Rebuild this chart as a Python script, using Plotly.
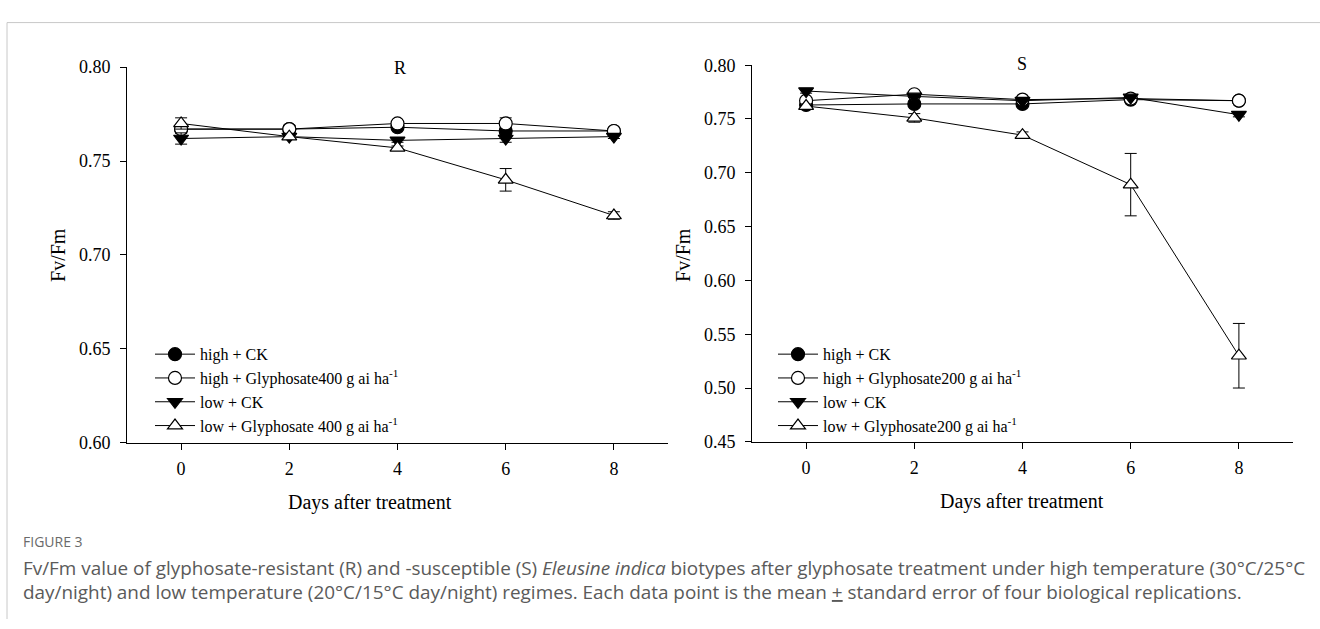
import plotly.graph_objects as go

days = [0, 2, 4, 6, 8]

# Panel R (glyphosate-resistant)
R_high_ck = [0.767, 0.767, 0.768, 0.766, 0.766]
R_high_ck_err = [0.002, 0.002, 0.001, 0.002, 0.001]
R_high_gly = [0.767, 0.767, 0.770, 0.770, 0.766]
R_high_gly_err = [0.002, 0.002, 0.001, 0.003, 0.001]
R_low_ck = [0.762, 0.763, 0.761, 0.762, 0.763]
R_low_ck_err = [0.003, 0.001, 0.001, 0.002, 0.001]
R_low_gly = [0.770, 0.763, 0.757, 0.740, 0.721]
R_low_gly_err = [0.003, 0.001, 0.001, 0.006, 0.002]

# Panel S (glyphosate-susceptible)
S_high_ck = [0.763, 0.764, 0.764, 0.768, 0.767]
S_high_ck_err = [0.002, 0.002, 0.001, 0.001, 0.001]
S_high_gly = [0.767, 0.773, 0.768, 0.769, 0.767]
S_high_gly_err = [0.003, 0.002, 0.001, 0.001, 0.001]
S_low_ck = [0.776, 0.771, 0.767, 0.770, 0.754]
S_low_ck_err = [0.002, 0.001, 0.001, 0.001, 0.002]
S_low_gly = [0.762, 0.751, 0.735, 0.689, 0.530]
S_low_gly_err = [0.002, 0.004, 0.003, 0.029, 0.030]

R_names = ["high + CK", "high + Glyphosate400 g ai ha<sup>-1</sup>",
           "low + CK", "low + Glyphosate 400 g ai ha<sup>-1</sup>"]
S_names = ["high + CK", "high + Glyphosate200 g ai ha<sup>-1</sup>",
           "low + CK", "low + Glyphosate200 g ai ha<sup>-1</sup>"]

symbols = ["circle", "circle-open", "triangle-down", "triangle-up-open"]
groups = ["high", "high", "low", "low"]

SERIF = "Liberation Serif, Times New Roman, serif"
SANS = "Open Sans, sans-serif"
W, H = 1320, 629

fig = go.Figure()

def add_panel(ys, errs, names, xa, ya, legend):
    for y, e, n, sym, g in zip(ys, errs, names, symbols, groups):
        fill = "white" if sym.endswith("open") else "black"
        base = sym.replace("-open", "")
        fig.add_trace(go.Scatter(
            x=days, y=y, name=n, mode="lines+markers",
            xaxis=xa, yaxis=ya, legend=legend, legendgroup=legend + g,
            line=dict(color="black", width=1),
            marker=dict(symbol=base, size=13, color=fill,
                        line=dict(color="black", width=1.2)),
            error_y=dict(type="data", array=e, visible=True,
                         color="black", thickness=1, width=6),
        ))

add_panel([R_high_ck, R_high_gly, R_low_ck, R_low_gly],
          [R_high_ck_err, R_high_gly_err, R_low_ck_err, R_low_gly_err],
          R_names, "x", "y", "legend")
add_panel([S_high_ck, S_high_gly, S_low_ck, S_low_gly],
          [S_high_ck_err, S_high_gly_err, S_low_ck_err, S_low_gly_err],
          S_names, "x2", "y2", "legend2")

def px_x(p):
    return p / W

def px_y(p):
    return 1 - p / H

axis_common = dict(showline=True, linecolor="black", linewidth=1, mirror=False,
                   ticks="outside", ticklen=6, tickcolor="black", tickwidth=1,
                   showgrid=False, zeroline=False,
                   tickfont=dict(family=SERIF, size=18, color="black"))

fig.update_layout(
    width=W, height=H, autosize=False,
    margin=dict(l=0, r=0, t=0, b=0),
    paper_bgcolor="white", plot_bgcolor="white",
    xaxis=dict(domain=[px_x(127), px_x(668)], range=[-1, 9],
               tickvals=[0, 2, 4, 6, 8], anchor="y", ticklabelstandoff=4,
               **axis_common),
    yaxis=dict(domain=[px_y(447), px_y(59)], range=[0.60, 0.80],
               dtick=0.05, tickformat=".2f", anchor="x", ticklabelstandoff=6,
               **axis_common),
    xaxis2=dict(domain=[px_x(752), px_x(1293)], range=[-1, 9],
                tickvals=[0, 2, 4, 6, 8], anchor="y2", ticklabelstandoff=4,
                **axis_common),
    yaxis2=dict(domain=[px_y(446), px_y(57)], range=[0.45, 0.80],
                dtick=0.05, tickformat=".2f", anchor="x2", ticklabelstandoff=6,
                **axis_common),
    legend=dict(x=px_x(150), y=px_y(338), xanchor="left", yanchor="top",
                bgcolor="rgba(0,0,0,0)", tracegroupgap=0, itemwidth=40,
                font=dict(family=SERIF, size=16, color="black")),
    legend2=dict(x=px_x(773), y=px_y(338), xanchor="left", yanchor="top",
                 bgcolor="rgba(0,0,0,0)", tracegroupgap=0, itemwidth=40,
                 font=dict(family=SERIF, size=16, color="black")),
    showlegend=True,
)

def label(text, x, y, size, family=SERIF, color="black", angle=0,
          xanchor="center"):
    return dict(text=text, x=px_x(x), y=px_y(y), xref="paper", yref="paper",
                xanchor=xanchor, yanchor="middle", showarrow=False,
                textangle=angle, font=dict(family=family, size=size, color=color))

ann = [
    label("R", 400, 60, 18),
    label("S", 1022, 56, 18),
    label("Days after treatment", 370, 509, 20),
    label("Days after treatment", 1022, 508, 20),
    label("Fv/Fm", 58, 253, 20, angle=-90),
    label("Fv/Fm", 683, 253, 20, angle=-90),
    label("FIGURE 3", 21, 549, 14, family=SANS, color="#6a6a6a", xanchor="left"),
    label("Fv/Fm value of glyphosate-resistant (R) and -susceptible (S) "
          "<i>Eleusine indica</i> biotypes after glyphosate treatment under "
          "high temperature (30°C/25°C",
          21, 576, 18.9, family=SANS, color="#5a5a5a", xanchor="left"),
    label("day/night) and low temperature (20°C/15°C day/night) regimes. "
          "Each data point is the mean <u>+</u> standard error of four "
          "biological replications.",
          21, 601, 18.9, family=SANS, color="#5a5a5a", xanchor="left"),
]
fig.update_layout(annotations=ann)

# light gray frame (left and top edges)
fig.add_shape(type="line", xref="paper", yref="paper",
              x0=px_x(7), x1=1.0, y0=px_y(13), y1=px_y(13),
              line=dict(color="#c8c8c8", width=1))
fig.add_shape(type="line", xref="paper", yref="paper",
              x0=px_x(7), x1=px_x(7), y0=0, y1=px_y(13),
              line=dict(color="#c8c8c8", width=1))

fig.write_html("out.html")
